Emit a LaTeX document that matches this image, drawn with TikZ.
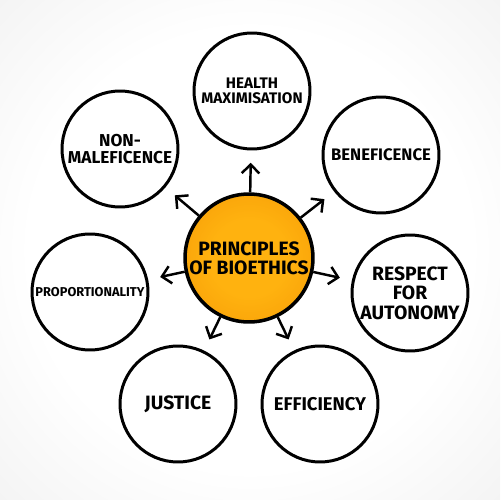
\documentclass[tikz,border=0pt]{standalone}
\usepackage{fontspec}
\setmainfont{Fira Sans}
\usetikzlibrary{arrows.meta}

\definecolor{hubin}{HTML}{FFB20F}
\definecolor{hubout}{HTML}{F08C00}
\definecolor{bgedge}{HTML}{D8D8D8}
\pgfdeclareradialshading{backshade}{\pgfpoint{0bp}{0bp}}{color(0bp)=(white); color(22bp)=(white); color(50bp)=(black!9); color(71bp)=(bgedge)}
\pgfdeclareradialshading{hubshade}{\pgfpoint{0bp}{0bp}}{color(0bp)=(hubin); color(15bp)=(hubin); color(50bp)=(hubout)}

\tikzset{
  bubble/.style={circle,draw=black,line width=1.7pt,minimum size=2.32cm,inner sep=0pt,align=center},
  hub/.style={circle,draw=black,line width=2pt,minimum size=2.56cm,inner sep=0pt,align=center,shading=hubshade},
  txt/.style={font=\bfseries\fontsize{#1}{#1}\selectfont},
  arr/.style={-{Straight Barb[length=5pt,width=10pt]},line width=1.4pt,shorten >=7pt}
}

\begin{document}
\begin{tikzpicture}[x=0.02cm,y=-0.02cm]
  \shade[shading=backshade] (0,0) rectangle (500,500);
  \useasboundingbox (0,0) rectangle (500,500);

  \node[hub,txt=11] (hub) at (249,258) {PRINCIPLES\\OF BIOETHICS};

  \node[bubble,txt=8.7] (health)   at (252,91)  {HEALTH\\MAXIMISATION};
  \node[bubble,txt=9.5] (benef)    at (381,155) {BENEFICENCE};
  \node[bubble,txt=11]  (autonomy) at (410,293) {RESPECT\\FOR\\AUTONOMY};
  \node[bubble,txt=10.5] (effic)   at (320,404) {EFFICIENCY};
  \node[bubble,txt=11]  (justice)  at (178,404) {JUSTICE};
  \node[bubble,txt=7.3] (propor)   at (90,292)  {PROPORTIONALITY};
  \node[bubble,txt=9.8] (nonmal)   at (120,149) {NON-\\MALEFICENCE};

  \path[arr]
    (hub) edge (health)
    (hub) edge (benef)
    (hub) edge (autonomy)
    (hub) edge (effic)
    (hub) edge (justice)
    (hub) edge (propor)
    (hub) edge (nonmal);
\end{tikzpicture}
\end{document}
